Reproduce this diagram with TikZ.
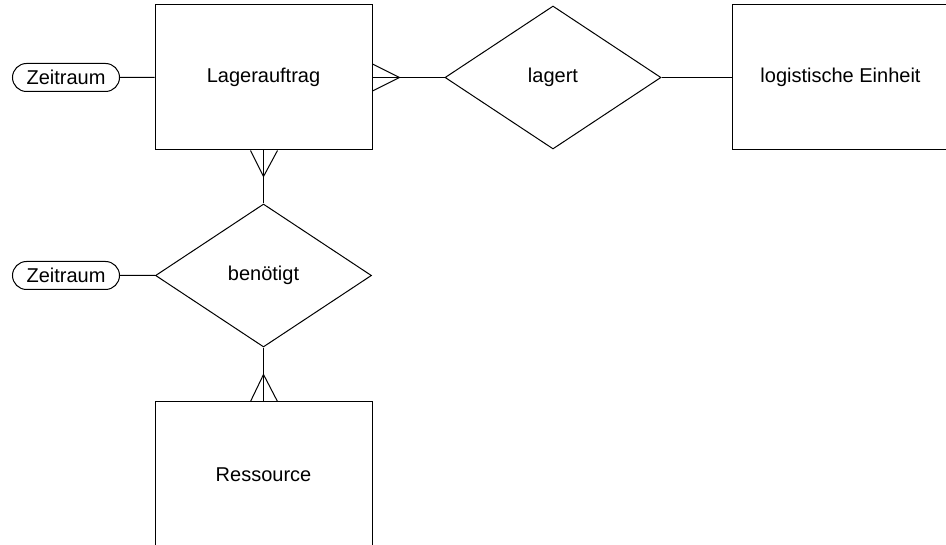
\documentclass[tikz,border=0pt]{standalone}
\usepackage{fontspec}
\setmainfont{Liberation Sans}
\usetikzlibrary{shapes.geometric,shapes.misc,calc}
\tikzset{
  entity/.style={draw, rectangle, minimum width=217pt, minimum height=145pt, inner sep=0pt, font=\fontsize{20}{24}\selectfont},
  relation/.style={draw, diamond, minimum width=216pt, minimum height=143pt, inner sep=0pt, aspect=1.5, font=\fontsize{20}{24}\selectfont},
  attr/.style={draw, rounded rectangle, minimum width=107pt, minimum height=28pt, inner sep=0pt, font=\fontsize{20}{24}\selectfont},
  conn/.style={draw, line width=1pt}
}
\begin{document}
\begin{tikzpicture}[x=1pt,y=-1pt, line width=1pt]
\useasboundingbox (0,0) rectangle (946,545);
\clip (0,0) rectangle (946,545);
\node[entity] (L) at (263.5,77.5) {Lagerauftrag};
\node[relation] (lag) at (553,77.5) {lagert};
\node[entity] (LE) at (840.5,77.5) {logistische Einheit};
\node[relation] (ben) at (263.5,275.5) {benötigt};
\node[entity] (R) at (263.5,474.5) {Ressource};
\node[attr] (Z1) at (66,77.5) {Zeitraum};
\node[attr] (Z2) at (66,275.5) {Zeitraum};
\draw[conn] (Z1) -- (L);
\draw[conn] (Z2) -- (ben);
\draw[conn] (L) -- (lag);
\draw[conn] (lag) -- (LE);
\draw[conn] (L) -- (ben);
\draw[conn] (ben) -- (R);
% crow's feet
\coordinate (t1) at ($(L.east)+(27,0)$);
\draw[conn] ($(L.east)+(0,-13.5)$) -- (t1) -- ($(L.east)+(0,13.5)$);
\coordinate (t2) at ($(L.south)+(0,26)$);
\draw[conn] ($(L.south)+(-13,0)$) -- (t2) -- ($(L.south)+(14,0)$);
\coordinate (t3) at ($(R.north)+(0,-27)$);
\draw[conn] ($(R.north)+(-13,0)$) -- (t3) -- ($(R.north)+(14,0)$);
\end{tikzpicture}
\end{document}
